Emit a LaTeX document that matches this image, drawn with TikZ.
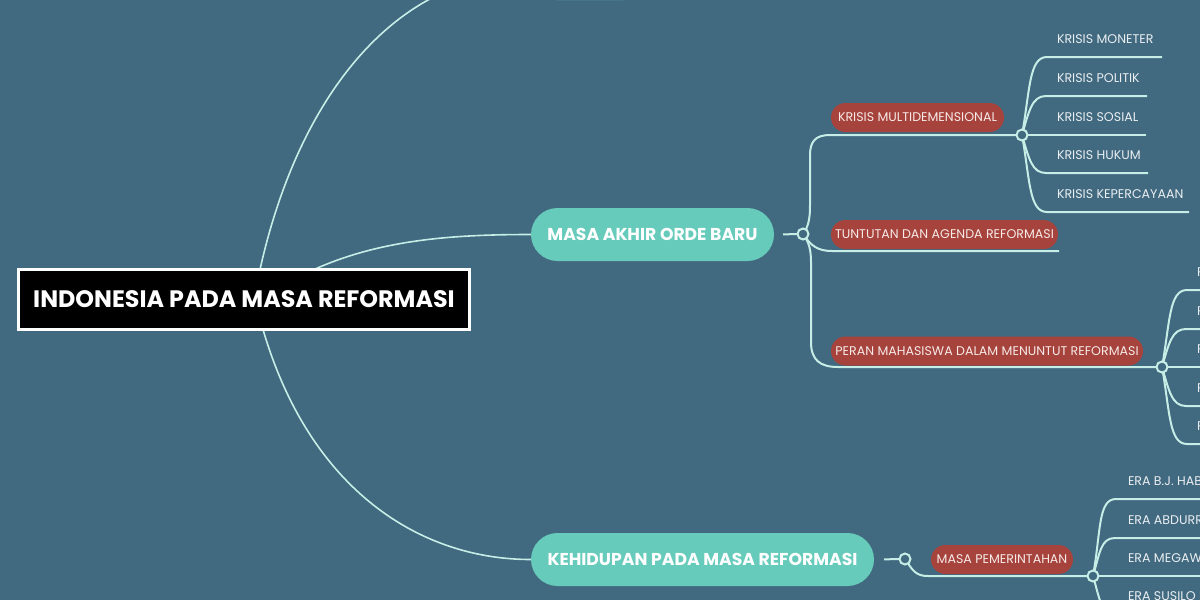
\documentclass[tikz,border=0pt]{standalone}
\usepackage{fontspec}
\setmainfont{Poppins}
\usetikzlibrary{calc}
\definecolor{bg}{HTML}{41697F}
\definecolor{teal1}{HTML}{66CBBA}
\definecolor{red1}{HTML}{A6433C}
\definecolor{linec}{HTML}{C6EEE7}
\definecolor{leaftxt}{HTML}{E9EEF1}
\definecolor{redtxt}{HTML}{F6E9E7}
\pgfdeclarelayer{bgl}
\pgfdeclarelayer{lines}
\pgfsetlayers{bgl,lines,main}
\begin{document}
\begin{tikzpicture}[x=1pt,y=-1pt,
  every node/.style={inner sep=0pt, outer sep=0pt},
  mainnode/.style={fill=teal1, rounded corners=26.5pt, minimum height=53pt, text=white,
    font=\fontsize{17.2}{20}\selectfont\bfseries},
  rednode/.style={fill=red1, rounded corners=14.5pt, minimum height=29pt, text=redtxt,
    font=\fontsize{12.6}{14}\selectfont},
  leaf/.style={text=leaftxt, font=\fontsize{12.6}{14}\selectfont, anchor=west},
  junc/.style={circle, draw=linec, line width=2pt, fill=bg, minimum size=11pt},
  br/.style={draw=linec, line width=2pt},
  trunk/.style={draw=linec, line width=1.6pt},
]
\useasboundingbox (0,0) rectangle (1200,600);
\begin{pgfonlayer}{bgl}
\fill[bg] (0,0) rectangle (1200,600);
\end{pgfonlayer}
\clip (0,0) rectangle (1200,600);

% root and main topics
\node[draw=white, line width=3pt, fill=black, minimum width=451pt, minimum height=60pt,
  text=white, font=\fontsize{23.8}{28}\selectfont\bfseries] (root) at (244,299.5) {INDONESIA PADA MASA REFORMASI};
\node[mainnode, minimum width=120pt] (top) at (590,-26.5) {};
\node[mainnode, minimum width=243pt] (masa) at (652.5,234.5) {MASA AKHIR ORDE BARU};
\node[mainnode, minimum width=343pt] (kehid) at (702.5,559.5) {KEHIDUPAN PADA MASA REFORMASI};

% sub topics
\node[rednode, minimum width=173pt] (k1) at (917.5,117.5) {KRISIS MULTIDEMENSIONAL};
\node[rednode, minimum width=227pt] (k2) at (944.5,234.5) {TUNTUTAN DAN AGENDA REFORMASI};
\node[rednode, minimum width=312pt] (k3) at (987,351) {PERAN MAHASISWA DALAM MENUNTUT REFORMASI};
\node[rednode, minimum width=142pt] (m1) at (1002,559.5) {MASA PEMERINTAHAN};

% junctions
\node[junc] (j1) at (803,234) {};
\node[junc] (j2) at (1022,135) {};
\node[junc] (j3) at (1162,367) {};
\node[junc] (j4) at (905,559) {};
\node[junc] (j5) at (1093,576) {};

% leaves
\node[leaf] (a1) at (1057,39.5) {KRISIS MONETER};
\node[leaf] (a2) at (1057,78.5) {KRISIS POLITIK};
\node[leaf] (a3) at (1057,117.5) {KRISIS SOSIAL};
\node[leaf] (a4) at (1057,155.5) {KRISIS HUKUM};
\node[leaf] (a5) at (1057,194.5) {KRISIS KEPERCAYAAN};
\node[leaf] (p1) at (1197,272.5) {P};
\node[leaf] (p2) at (1197,311.5) {P};
\node[leaf] (p3) at (1197,349.5) {P};
\node[leaf] (p4) at (1197,388.5) {P};
\node[leaf] (p5) at (1197,426.5) {P};
\node[leaf] (e1) at (1128,481.5) {ERA B.J. HABIBIE};
\node[leaf] (e2) at (1128,520.5) {ERA ABDURRAHMAN WAHID};
\node[leaf] (e3) at (1128,558.5) {ERA MEGAWATI SOEKARNOPUTRI};
\node[leaf] (e4) at (1128,596.5) {ERA SUSILO BAMBANG YUDHOYONO};

% underline ends
\coordinate (u1) at (1162,57);
\coordinate (u2) at (1147,96);
\coordinate (u3) at (1146,135);
\coordinate (u4) at (1148,173);
\coordinate (u5) at (1189,212);
\coordinate (k2e) at (1059,251);
\coordinate (q1) at (1215,290);
\coordinate (q2) at (1215,329);
\coordinate (q3) at (1215,367);
\coordinate (q4) at (1215,406);
\coordinate (q5) at (1215,444);
\coordinate (r1) at (1215,499);
\coordinate (r2) at (1215,538);
\coordinate (r3) at (1215,576);
\coordinate (r4) at (1215,614);

\begin{pgfonlayer}{lines}
% trunks from root
\draw[trunk] ($(root.north)+(16,0)$) .. controls (300,90) and (400,-26.5) .. (top.west);
\draw[trunk] ($(root.north)+(70,0)$) .. controls (380,240) and (450,234.5) .. (masa.west);
\draw[trunk] ($(root.south)+(19,0)$) .. controls (310,490) and (420,559.5) .. (kehid.west);

% masa akhir orde baru
\draw[br, shorten <=9pt] (masa.east) -- (j1.center);
\draw[br] (j1.center) .. controls +(6,-8) and +(0,12) .. (810,205) -- (810,155)
  .. controls +(0,-14) and +(-14,0) .. (830,135) -- (j2.center);
\draw[br] (j1.center) .. controls +(8,12) and +(-14,0) .. (832,251) -- (k2e);
\draw[br] (j1.center) .. controls +(6,8) and +(0,-12) .. (811,262) -- (811,342)
  .. controls +(0,18) and +(-18,0) .. (838,367) -- (j3.center);

% krisis leaves
\draw[br] (j2.center) .. controls +(8,-45) and +(-18,0) .. (1047,57) -- (u1);
\draw[br] (j2.center) .. controls +(7,-24) and +(-14,0) .. (1046,96) -- (u2);
\draw[br] (j2.center) -- (u3);
\draw[br] (j2.center) .. controls +(7,24) and +(-14,0) .. (1046,173) -- (u4);
\draw[br] (j2.center) .. controls +(8,45) and +(-18,0) .. (1047,212) -- (u5);

% peran leaves
\draw[br] (j3.center) .. controls +(8,-45) and +(-18,0) .. (1187,290) -- (q1);
\draw[br] (j3.center) .. controls +(7,-24) and +(-14,0) .. (1186,329) -- (q2);
\draw[br] (j3.center) -- (q3);
\draw[br] (j3.center) .. controls +(7,24) and +(-14,0) .. (1186,406) -- (q4);
\draw[br] (j3.center) .. controls +(8,45) and +(-18,0) .. (1187,444) -- (q5);

% kehidupan
\draw[br, shorten <=10pt] (kehid.east) -- (j4.center);
\draw[br] (j4.center) .. controls +(8,12) and +(-12,0) .. (928,576) -- (j5.center);
\draw[br] (j5.center) .. controls +(8,-45) and +(-18,0) .. (1116,499) -- (r1);
\draw[br] (j5.center) .. controls +(7,-24) and +(-14,0) .. (1115,538) -- (r2);
\draw[br] (j5.center) -- (r3);
\draw[br] (j5.center) .. controls +(7,24) and +(-14,0) .. (1115,614) -- (r4);
\end{pgfonlayer}
\end{tikzpicture}
\end{document}
